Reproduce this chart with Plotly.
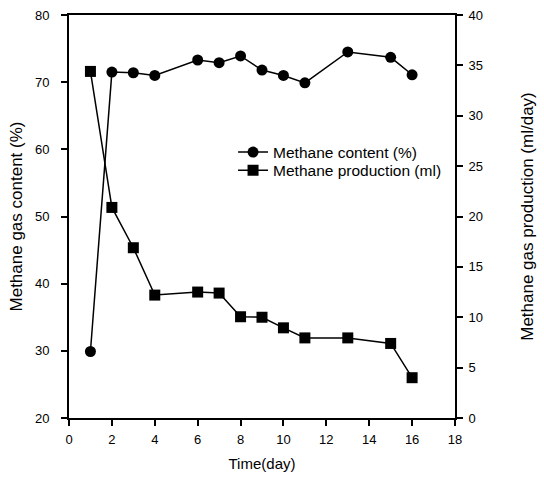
import plotly.graph_objects as go

days_content = [1, 2, 3, 4, 6, 7, 8, 9, 10, 11, 13, 15, 16]
methane_content = [29.9, 71.5, 71.4, 71.0, 73.3, 72.9, 73.9, 71.8, 71.0, 69.9, 74.5, 73.7, 71.1]

days_prod = [1, 2, 3, 4, 6, 7, 8, 9, 10, 11, 13, 15, 16]
methane_production = [34.4, 20.9, 16.9, 12.2, 12.5, 12.4, 10.05, 10.0, 8.95, 7.95, 7.95, 7.4, 4.0]

x_ticks = [0, 2, 4, 6, 8, 10, 12, 14, 16, 18]
left_ticks = [20, 30, 40, 50, 60, 70, 80]
right_ticks = [0, 5, 10, 15, 20, 25, 30, 35, 40]

FONT = "Liberation Sans, Arial, sans-serif"

fig = go.Figure()
fig.add_trace(go.Scatter(
    x=days_content, y=methane_content, mode="lines+markers",
    name="Methane content (%)", legend="legend",
    line=dict(color="black", width=1.5),
    marker=dict(symbol="circle", size=11, color="black"),
))
fig.add_trace(go.Scatter(
    x=days_prod, y=methane_production, mode="lines+markers",
    name="Methane production (ml)", yaxis="y2", legend="legend2",
    line=dict(color="black", width=1.5),
    marker=dict(symbol="square", size=11, color="black"),
))

axis_common = dict(
    showline=True, linecolor="black", linewidth=1.8,
    ticks="outside", ticklen=6, tickwidth=1.5, tickcolor="black",
    showgrid=False, zeroline=False,
    tickfont=dict(family=FONT, size=13, color="black"),
)

legend_common = dict(
    xanchor="left", yanchor="top",
    bgcolor="rgba(0,0,0,0)", borderwidth=0,
    font=dict(family=FONT, size=15.5, color="black"),
)

fig.update_layout(
    width=544, height=478,
    margin=dict(l=69, r=89, t=8, b=54),
    paper_bgcolor="white", plot_bgcolor="white",
    font=dict(family=FONT, color="black"),
    showlegend=True,
    legend=dict(x=0.425, y=0.701, **legend_common),
    legend2=dict(x=0.425, y=0.656, **legend_common),
    xaxis=dict(
        range=[0, 18], tickvals=x_ticks, mirror=True,
        ticklabelstandoff=2,
        title=dict(text="Time(day)", font=dict(family=FONT, size=15), standoff=13),
        **axis_common,
    ),
    yaxis=dict(
        range=[20, 80], tickvals=left_ticks,
        ticklabelstandoff=9,
        title=dict(text="Methane gas content (%)", font=dict(family=FONT, size=17), standoff=8),
        **axis_common,
    ),
    yaxis2=dict(
        range=[0, 40], tickvals=right_ticks, overlaying="y", side="right",
        ticklabelstandoff=3,
        title=dict(text="Methane gas production (ml/day)", font=dict(family=FONT, size=17), standoff=39),
        **axis_common,
    ),
)

fig.write_html("out.html")
